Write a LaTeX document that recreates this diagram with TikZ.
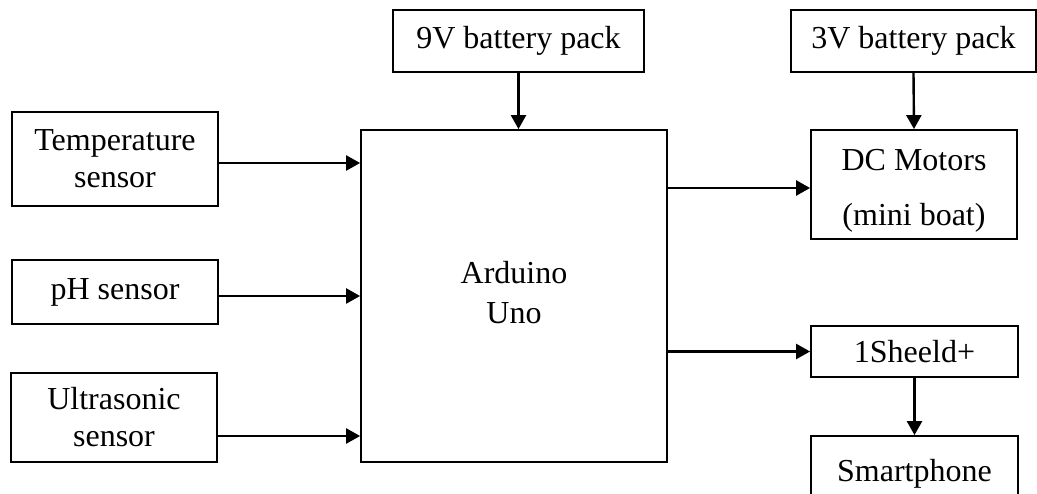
\documentclass[tikz,border=0pt]{standalone}
\usepackage{fontspec}
\setmainfont{Liberation Serif}
\usepackage{tikz}
\usetikzlibrary{arrows.meta,calc,positioning}

\begin{document}
\begin{tikzpicture}[x=1pt,y=-1pt,>={Triangle[length=14pt,width=15pt]},
    every node/.style={font=\fontsize{32}{37}\selectfont},
    block/.style={draw=black,fill=white,line width=1.8pt,align=center,inner sep=0pt},
    link/.style={->,line width=2.4pt}]
    \useasboundingbox (0,0) rectangle (1037,494);

    % sensors on the left
    \node[block,minimum width=206pt,minimum height=94pt] (temp) at (115,159)
          {Temperature\\sensor};
    \node[block,minimum width=206pt,minimum height=64pt] (ph) at (115,292)
          {pH sensor};
    \node[block,minimum width=206pt,minimum height=89pt] (ultra) at (114,417.5)
          {\raisebox{-3pt}[\height][\depth]{\begin{tabular}{@{}c@{}}Ultrasonic\\sensor\end{tabular}}};

    % controller and its supply
    \node[block,minimum width=306pt,minimum height=332pt] (arduino) at (514,296)
          {\begin{tabular}{@{}c@{}}Arduino\\[3pt]Uno\end{tabular}};
    \node[block,minimum width=251pt,minimum height=62pt] (batnine) at (518.5,41)
          {9V battery pack};
    \draw[link] (batnine.south) -- (batnine.south |- arduino.north);

    \draw[link] ([yshift=-4pt]temp.east) -- ([yshift=-4pt]temp.east -| arduino.west);
    \draw[link] ([yshift=-4pt]ph.east) -- ([yshift=-4pt]ph.east -| arduino.west);
    \draw[link] ([yshift=-18.5pt]ultra.east) -- ([yshift=-18.5pt]ultra.east -| arduino.west);

    % outputs on the right
    \node[block,minimum width=245pt,minimum height=62pt] (batthree) at (913.5,41)
          {3V battery pack};
    \node[block,minimum width=206pt,minimum height=109pt] (motors) at (914,184.5)
          {\raisebox{-6pt}[\height][\depth]{\begin{tabular}{@{}c@{}}DC Motors\\[18pt](mini boat)\end{tabular}}};
    \node[block,minimum width=207pt,minimum height=51pt] (sheeld) at (914.5,351.5)
          {1Sheeld+};
    \node[block,minimum width=207pt,minimum height=76pt] (phone) at (914.5,474)
          {\raisebox{8pt}{Smartphone}};

    \draw[link] (batthree.south) -- (motors.north);
    \draw[link] ([yshift=-3.5pt]arduino.east |- motors.west) -- ([yshift=-3.5pt]motors.west);
    \draw[link] (arduino.east |- sheeld.west) -- (sheeld.west);
    \draw[link] (sheeld.south) -- (phone.north);
  \end{tikzpicture}
\end{document}
